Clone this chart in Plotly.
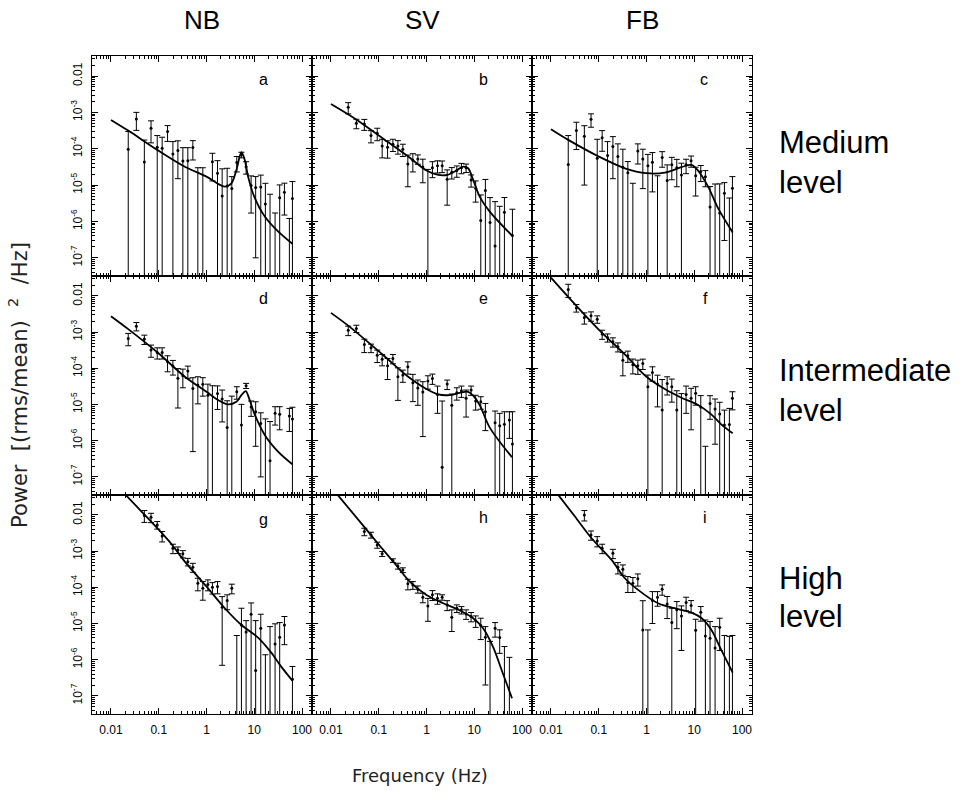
import plotly.graph_objects as go

# ---------------- data ----------------
FREQ = [0.023, 0.034, 0.050, 0.069, 0.093, 0.118, 0.153, 0.198, 0.252, 0.320, 0.407,
        0.518, 0.659, 0.838, 1.07, 1.33, 1.70, 2.13, 2.71, 3.39, 4.31, 5.39, 6.75,
        8.59, 10.7, 13.7, 17.1, 21.4, 27.3, 34.1, 42.8, 54.4, 63.0]

# NB, medium level (a)
NB_MED_P = [9.7e-5, 6.6e-4, 4.3e-5, 3.65e-4, 1.1e-4, 1.03e-4, 2.96e-4, 7.2e-5, 9.0e-5, 4.6e-5, 4.7e-5,
            1.08e-4, 1e-8, 1e-8, None, 4.4e-5, 2.1e-5, 5.0e-6, 9.5e-6, 8.0e-6, 4.2e-5, 6.8e-5, 3.2e-5,
            9.8e-6, 8.6e-6, 8.8e-6, 3.0e-6, 1e-8, 1e-8, 4.5e-6, 6.4e-6, 1e-8, 4.3e-6]
NB_MED_E = [2.0e-4, 3.4e-4, 1.3e-4, 2.2e-4, 1.2e-4, 1.04e-4, 1.37e-4, 8.5e-5, 7.5e-5, 6.1e-5, 6.0e-5,
            5.9e-5, 3.0e-5, 3.0e-5, None, 3.1e-5, 2.6e-5, 2.3e-5, 1.95e-5, 9.1e-6, 1.9e-5, 1.2e-5, 1.2e-5,
            8.1e-6, 8.5e-6, 1.0e-5, 8.2e-6, 5.6e-6, 1.7e-6, 5.6e-6, 4.9e-6, 1.2e-6, 8.2e-6]
# SV, medium level (b)
SV_MED_P = [1.38e-3, 5.0e-4, 4.8e-4, 2.3e-4, 2.66e-4, 1.19e-4, 1.1e-4, 1.33e-4, 1.19e-4, 9.7e-5, 3.8e-5,
            4.8e-5, 5.25e-5, 3.16e-5, 1e-8, 3.0e-5, 3.4e-5, 3.4e-5, 1.45e-5, 2.25e-5, 2.5e-5, 3.0e-5, 3.0e-5,
            1.39e-5, 8.2e-6, 1.06e-6, 7.1e-6, 9.3e-7, 2.1e-7, 1e-8, 1.8e-6, None, 4.1e-7]
SV_MED_E = [4.7e-4, 1.46e-4, 1.6e-4, 8.5e-5, 1.0e-4, 6.3e-5, 5.5e-5, 4.9e-5, 4.8e-5, 3.6e-5, 2.9e-5,
            2.5e-5, 1.5e-5, 2.0e-5, 2.7e-5, 1.4e-5, 1.25e-5, 1.2e-5, 1.17e-5, 7.8e-6, 8.6e-6, 9.5e-6, 7.9e-6,
            5.1e-6, 4.8e-6, 4.3e-6, 7.2e-6, 3.6e-6, 3.3e-6, 2.6e-6, 2.75e-6, None, 1.76e-6]
# FB, medium level (c)
FB_MED_P = [3.7e-5, 3.15e-4, 2.2e-4, 6.5e-4, 5.5e-5, 2.0e-4, 6.5e-5, 1.15e-4, 6.1e-5, 3.1e-5, 2.2e-5,
            1e-8, 8.7e-5, 5.25e-5, 3.4e-5, 4.25e-5, 1e-8, 5.7e-5, 1.33e-5, 3.6e-5, 3.0e-5, 1.9e-5, 3.6e-5,
            4.7e-5, 1.8e-5, 2.35e-5, 1.7e-5, 2.5e-6, 1e-8, 1.7e-6, 6.0e-6, 1e-8, 8.2e-6]
FB_MED_E = [1.93e-4, 2.2e-4, 2.1e-4, 2.6e-4, 1.27e-4, 1.15e-4, 9.2e-5, 1.0e-4, 7.5e-5, 6.6e-5, 2.23e-5,
            1.12e-5, 4.9e-5, 4.45e-5, 3.6e-5, 3.6e-5, 1.8e-5, 2.6e-5, 2.26e-5, 2.2e-5, 2.1e-5, 2.1e-5, 1.54e-5,
            1.6e-5, 1.3e-5, 1.1e-5, 8.0e-6, 6.6e-6, 1.07e-5, 9.1e-6, 5.7e-6, 4.4e-6, 8.9e-6]
# NB, intermediate level (d)
NB_INT_P = [6.7e-4, 1.46e-3, 6.4e-4, 3.2e-4, 2.74e-4, 2.74e-4, 1.51e-4, 1.15e-4, 5.3e-5, 6.2e-5, 8.4e-5,
            2.77e-5, 3.44e-5, 3.6e-5, 1.8e-5, 1e-8, 2.0e-5, 1.42e-5, 2.3e-6, 1e-8, 2.25e-5, 2.7e-6, 3.3e-5,
            8.6e-6, 6.3e-6, 3.0e-6, 1e-8, 2.8e-7, 5.7e-6, 5.35e-6, None, 4.8e-6, 4.0e-6]
NB_INT_E = [2.5e-4, 3.8e-4, 1.84e-4, 1.18e-4, 9.4e-5, 9.4e-5, 7.1e-5, 5.0e-5, 4.5e-5, 3.3e-5, 3.1e-5,
            2.72e-5, 2.4e-5, 1.9e-5, 1.85e-5, 3.3e-5, 1.27e-5, 1.09e-5, 1.04e-5, 1.7e-5, 8.5e-6, 7.4e-6, 5.3e-6,
            3.9e-6, 5.6e-6, 2.9e-6, 4.0e-6, 3.1e-6, 3.0e-6, 3.35e-6, None, 3.0e-6, 4.4e-6]
# SV, intermediate level (e)
SV_INT_P = [1.13e-3, 1.26e-3, 4.55e-4, 3.68e-4, 2.31e-4, 1.79e-4, 1.18e-4, 1.87e-4, 5.8e-5, 6.5e-5, 1.1e-4,
            4.0e-5, 2.85e-5, 2.2e-5, 4.44e-5, 5.26e-5, 1.9e-5, 1.85e-7, 3.66e-5, 9.5e-6, 2.11e-5, 2.4e-5, 1.48e-5,
            2.51e-5, 1.25e-5, 1.19e-5, 6.3e-6, None, 3.15e-6, 2.6e-6, 2.83e-6, 3.73e-6, 8.1e-7]
SV_INT_E = [3.3e-4, 2.9e-4, 1.83e-4, 9.7e-5, 8.7e-5, 6.2e-5, 6.9e-5, 5.4e-5, 4.5e-5, 2.4e-5, 4.1e-5,
            2.8e-5, 1.9e-5, 2.07e-5, 1.78e-5, 1.66e-5, 1.33e-5, 1.23e-5, 1.07e-5, 1.0e-5, 7.9e-6, 8.3e-6, 1.03e-5,
            7.2e-6, 5.5e-6, 4.5e-6, 4.4e-6, None, 3.45e-6, 3.1e-6, 3.47e-6, 2.57e-6, 5.5e-6]
# FB, intermediate level (f)
FB_INT_P = [1.5e-2, 4.67e-3, 2.53e-3, 2.81e-3, 2.28e-3, 8.8e-4, 7.1e-4, 5.4e-4, 3.93e-4, 1.68e-4, 2.22e-4,
            1.25e-4, 1.18e-4, 1.36e-4, 3.1e-5, 7.7e-5, 3.66e-5, 7.0e-6, 3.83e-5, 3.1e-5, 7.0e-6, 1e-8, 1.9e-5,
            1.5e-5, 2.03e-5, 8.6e-6, 1e-8, 1.07e-5, 7.5e-6, 5.5e-6, 2.7e-6, 2.8e-6, 1.48e-5]
FB_INT_E = [6.0e-3, 1.1e-3, 8.7e-4, 8.1e-4, 5.3e-4, 2.5e-4, 1.8e-4, 1.55e-4, 1.1e-4, 1.06e-4, 7.6e-5,
            5.5e-5, 5.0e-5, 4.3e-5, 3.4e-5, 3.3e-5, 2.8e-5, 4.2e-5, 2.0e-5, 1.94e-5, 1.7e-5, 2.0e-5, 1.33e-5,
            1.3e-5, 1.07e-5, 9.0e-6, 6.9e-7, 6.8e-6, 6.7e-6, 6.0e-6, 4.3e-6, 5.0e-6, 7.7e-6]
# NB, high level (g)
NB_HIGH_P = [None, None, 9.7e-3, 8.6e-3, 5.3e-3, 2.63e-3, None, 1.2e-3, 1.08e-3, 8.4e-4, 5.1e-4,
             3.6e-4, 1.29e-4, 9.4e-5, 1.2e-4, 1.0e-4, 1.05e-4, 2.8e-5, 4.3e-5, 9.4e-5, 1e-8, 9.1e-6, 5.8e-6,
             1.8e-5, 5e-7, 7.4e-6, 1e-8, 1e-8, 2.7e-6, 4.2e-6, 9.1e-6, None, 2.9e-7]
NB_HIGH_E = [None, None, 3.5e-3, 2.5e-3, 1.25e-3, 8.4e-4, None, 3.5e-4, 2.2e-4, 1.9e-4, 1.2e-4,
             1.0e-4, 4.9e-5, 5.0e-5, 4.0e-5, 3.5e-5, 3.9e-5, 2.73e-5, 1.9e-5, 2.8e-5, 4.65e-6, 1.73e-5, 6.2e-6,
             1.9e-5, 1.15e-5, 1.06e-5, 1.36e-6, 8.2e-6, 7.1e-6, 6.4e-6, 6.5e-6, None, 3.6e-7]
# SV, high level (h)
SV_HIGH_P = [None, None, 3.47e-3, 2.8e-3, 1.48e-3, 8.4e-4, None, 5.5e-4, 3.9e-4, 3.0e-4, 1.26e-4,
             1.16e-4, 8.9e-5, 5.3e-5, 3.05e-5, 6.2e-5, 5.0e-5, 5.3e-5, 3.27e-5, 1.49e-5, 2.64e-5, 2.38e-5, 1.84e-5,
             1.56e-5, 1.2e-5, 8.8e-6, 4.2e-6, 1e-8, 7.4e-6, 4.1e-6, 1e-8, 1e-8, None]
SV_HIGH_E = [None, None, 8.1e-4, 5.2e-4, 2.8e-4, 1.3e-4, None, 6.3e-5, 7.2e-5, 4.5e-5, 4.1e-5,
             2.8e-5, 2.0e-5, 1.56e-5, 1.9e-5, 1.9e-5, 1.6e-5, 9.0e-6, 1.0e-5, 8.9e-6, 6.3e-6, 5.5e-6, 5.4e-6,
             4.5e-6, 4.2e-6, 5.2e-6, 4.0e-6, 3.2e-6, 3.2e-6, 2.6e-6, 2.3e-6, 1.15e-6, None]
# FB, high level (i)
FB_HIGH_P = [None, None, 1.0e-2, 2.8e-3, 1.91e-3, 1.2e-3, None, 8.7e-4, 3.58e-4, 3.15e-4, 1.35e-4,
             1.29e-4, 1.71e-4, 6.65e-6, 1e-8, 4.3e-5, 5.3e-5, 8.85e-5, 3.47e-5, 1.06e-5, 2.38e-5, 1.62e-5, 3.78e-5,
             3.13e-5, 6.5e-6, 2.05e-5, 4.5e-6, 3.9e-6, 2.1e-6, 7.9e-6, 1e-8, 1e-8, 1e-8]
FB_HIGH_E = [None, None, 3.2e-3, 8.0e-4, 6.0e-4, 3.5e-4, None, 2.5e-4, 1.24e-4, 1.0e-4, 6.3e-5,
             5.7e-5, 6.3e-5, 3.6e-5, 6.65e-6, 3.3e-5, 2.3e-5, 2.8e-5, 2.1e-5, 1.58e-5, 1.66e-5, 1.44e-5, 1.54e-5,
             1.17e-5, 6.6e-6, 8.9e-6, 8.0e-6, 7.4e-6, 6.1e-6, 6.1e-6, 4.65e-6, 4.4e-6, 4.65e-6]

# model curves (frequency, power) read along the drawn fits
NB_MED_MF = [0.01, 0.023, 0.093, 0.352, 1.0, 1.75, 2.42, 3.33, 4.24, 5.39, 6.33, 7.43, 10, 16.6, 31.5, 62.8]
NB_MED_MP = [6.2e-4, 3.15e-4, 9.3e-5, 3.2e-5, 1.71e-5, 1.08e-5, 9.1e-6, 1.12e-5, 2.62e-5, 8.0e-5, 4.9e-5,
             1.71e-5, 4.8e-6, 1.36e-6, 5.3e-7, 2.43e-7]
SV_MED_MF = [0.01, 0.035, 0.12, 0.414, 1.0, 1.75, 2.75, 4.24, 5.85, 7.43, 9.5, 13.0, 21.1, 61.8]
SV_MED_MP = [1.7e-3, 6.2e-4, 1.94e-4, 6.1e-5, 2.51e-5, 1.9e-5, 1.9e-5, 2.51e-5, 3.23e-5, 2.9e-5, 1.39e-5,
             4.8e-6, 1.87e-6, 4.1e-7]
FB_MED_MF = [0.01, 0.023, 0.1, 0.352, 1.0, 2.42, 5.39, 8.73, 12.0, 19.5, 31.5, 63.8]
FB_MED_MP = [3.43e-4, 1.75e-4, 6.1e-5, 2.9e-5, 2.12e-5, 2.2e-5, 3.1e-5, 3.59e-5, 2.51e-5, 9.1e-6, 2.32e-6, 4.97e-7]
NB_INT_MF = [0.01, 0.023, 0.1, 0.352, 1.0, 1.75, 2.84, 4.24, 5.39, 6.64, 7.8, 10, 16.6, 31.5, 62.8]
NB_INT_MP = [2.75e-3, 1.21e-3, 2.57e-4, 5.85e-5, 2.25e-5, 1.33e-5, 1.01e-5, 1.19e-5, 1.82e-5, 2.35e-5, 1.48e-5,
             5.7e-6, 1.44e-6, 5.0e-7, 2.23e-7]
SV_INT_MF = [0.01, 0.0237, 0.12, 0.414, 1.0, 1.75, 3.07, 4.98, 7.43, 9.5, 13.0, 21.0, 61.8]
SV_INT_MP = [3.4e-3, 1.46e-3, 2.41e-4, 5.85e-5, 2.67e-5, 1.9e-5, 1.82e-5, 2.11e-5, 2.25e-5, 1.75e-5, 9.7e-6,
             2.34e-6, 3.5e-7]
FB_INT_MF = [0.01, 0.023, 0.1, 0.352, 1.0, 2.42, 5.39, 12.0, 22.7, 36.7, 63.8]
FB_INT_MP = [3.2e-2, 9.4e-3, 1.18e-3, 2.41e-4, 5.85e-5, 2.67e-5, 1.54e-5, 9.7e-6, 5.35e-6, 2.83e-6, 1.6e-6]
NB_HIGH_MF = [0.0203, 0.0473, 0.0978, 0.186, 0.352, 1.0, 2.42, 5.39, 12.0, 22.7, 36.7, 62.8]
NB_HIGH_MP = [3.57e-2, 1.11e-2, 4.02e-3, 1.55e-3, 5.14e-4, 1.05e-4, 2.64e-5, 9.1e-6, 4.08e-6, 1.57e-6, 6.45e-7, 2.65e-7]
SV_HIGH_MF = [0.0138, 0.0473, 0.1, 0.235, 0.446, 1.0, 2.24, 5.0, 9.5, 15.3, 24.6, 39.6, 61.8]
SV_HIGH_MP = [3.57e-2, 5.07e-3, 1.52e-3, 4.0e-4, 1.44e-4, 6.17e-5, 3.63e-5, 2.28e-5, 1.4e-5, 7.4e-6, 2.3e-6,
              4.23e-7, 8.6e-8]
FB_HIGH_MF = [0.0142, 0.0318, 0.0707, 0.186, 0.352, 0.667, 1.75, 3.87, 8.73, 14.3, 22.9, 36.7, 63.8]
FB_HIGH_MP = [3.57e-2, 9.0e-3, 2.26e-3, 5.71e-4, 1.78e-4, 8.5e-5, 3.63e-5, 2.64e-5, 2.0e-5, 1.4e-5, 6.65e-6,
              1.87e-6, 4.4e-7]

COLUMNS = ["NB", "SV", "FB"]
ROW_LABELS = [("Medium", "level"), ("Intermediate", "level"), ("High", "level")]
LETTERS = ["a", "b", "c", "d", "e", "f", "g", "h", "i"]
X_TICKS = [0.01, 0.1, 1, 10, 100]
X_TICKTEXT = ["0.01", "0.1", "1", "10", "100"]
Y_TICKS = [1e-2, 1e-3, 1e-4, 1e-5, 1e-6, 1e-7]
Y_TICKTEXT = ["0.01", "10<sup>-3</sup>", "10<sup>-4</sup>", "10<sup>-5</sup>", "10<sup>-6</sup>", "10<sup>-7</sup>"]

PANELS = [
    (NB_MED_P, NB_MED_E, NB_MED_MF, NB_MED_MP), (SV_MED_P, SV_MED_E, SV_MED_MF, SV_MED_MP),
    (FB_MED_P, FB_MED_E, FB_MED_MF, FB_MED_MP),
    (NB_INT_P, NB_INT_E, NB_INT_MF, NB_INT_MP), (SV_INT_P, SV_INT_E, SV_INT_MF, SV_INT_MP),
    (FB_INT_P, FB_INT_E, FB_INT_MF, FB_INT_MP),
    (NB_HIGH_P, NB_HIGH_E, NB_HIGH_MF, NB_HIGH_MP), (SV_HIGH_P, SV_HIGH_E, SV_HIGH_MF, SV_HIGH_MP),
    (FB_HIGH_P, FB_HIGH_E, FB_HIGH_MF, FB_HIGH_MP),
]

# ---------------- layout geometry ----------------
W, H = 969, 791
COL_PX = [(92, 312), (312, 532), (532, 752)]
ROW_PX = [(56, 276), (276, 495), (495, 714)]
X_RANGE = [-2.397, 2.209]
Y_RANGE = [-7.50, -1.45]
TICK_FONT = dict(family="Liberation Sans, Arial, sans-serif", size=12, color="black")

minor_x = [m * 10.0 ** k for k in range(-3, 3) for m in range(2, 10)]
minor_y = [m * 10.0 ** k for k in range(-8, -1) for m in range(2, 10)]


def px_x(x):
    return x / W


def px_y(y):
    return 1 - y / H


fig = go.Figure()
layout = dict(width=W, height=H, margin=dict(l=0, r=0, t=0, b=0), autosize=False,
              paper_bgcolor="white", plot_bgcolor="white", showlegend=False)

for k, (pw, er, mf, mp) in enumerate(PANELS):
    r, c = divmod(k, 3)
    n = k + 1
    xs = "" if n == 1 else str(n)
    xa, ya = "x" + xs, "y" + xs
    fig.add_trace(go.Scatter(
        x=FREQ, y=pw, mode="markers", xaxis=xa, yaxis=ya,
        marker=dict(size=3, color="black"),
        error_y=dict(type="data", array=er, symmetric=True, color="black", thickness=1, width=3),
        hoverinfo="skip"))
    fig.add_trace(go.Scatter(
        x=mf, y=mp, mode="lines", xaxis=xa, yaxis=ya,
        line=dict(color="black", width=1.8, shape="spline", smoothing=0.9), hoverinfo="skip"))
    x0, x1 = COL_PX[c]
    y0, y1 = ROW_PX[r]
    common = dict(type="log", showline=True, linecolor="black", linewidth=1.2, mirror="ticks",
                  ticks="inside", ticklen=6, tickwidth=1, tickcolor="black", showgrid=False,
                  zeroline=False, tickfont=TICK_FONT, fixedrange=True)
    layout["xaxis" + xs] = dict(common, domain=[px_x(x0), px_x(x1)], range=X_RANGE, anchor=ya,
                                tickmode="array", tickvals=X_TICKS, ticktext=X_TICKTEXT,
                                showticklabels=(r == 2), ticklabelstandoff=4,
                                minor=dict(tickmode="array", tickvals=minor_x, ticks="inside",
                                           ticklen=3, tickcolor="black", showgrid=False))
    layout["yaxis" + xs] = dict(common, domain=[px_y(y1), px_y(y0)], range=Y_RANGE, anchor=xa,
                                tickmode="array", tickvals=Y_TICKS, ticktext=Y_TICKTEXT,
                                showticklabels=(c == 0), tickangle=-90, ticklabelstandoff=4,
                                minor=dict(tickmode="array", tickvals=minor_y, ticks="inside",
                                           ticklen=3, tickcolor="black", showgrid=False))

ann = []
HEAD_FONT = dict(family="Liberation Sans, Arial, sans-serif", size=26, color="black")
ROW_FONT = dict(family="Liberation Sans, Arial, sans-serif", size=31, color="black")
for c, name in enumerate(COLUMNS):
    cx = (COL_PX[c][0] + COL_PX[c][1]) / 2
    ann.append(dict(x=px_x(cx), y=px_y(20), text=name, showarrow=False, xref="paper", yref="paper",
                    xanchor="center", yanchor="middle", font=HEAD_FONT))
ROW_TEXT_Y = [(143, 183), (370, 410), (578, 616)]
for r, (l1, l2) in enumerate(ROW_LABELS):
    for txt, yy in zip((l1, l2), ROW_TEXT_Y[r]):
        ann.append(dict(x=px_x(777), y=px_y(yy), text=txt, showarrow=False, xref="paper", yref="paper",
                        xanchor="left", yanchor="middle", font=ROW_FONT))
LETTER_POS = [(263, 80), (483, 80), (704, 80), (263, 298), (483, 298), (705, 298),
              (263, 519), (483, 517), (705, 517)]
for L, (lx, ly) in zip(LETTERS, LETTER_POS):
    ann.append(dict(x=px_x(lx), y=px_y(ly), text=L, showarrow=False, xref="paper", yref="paper",
                    xanchor="center", yanchor="middle",
                    font=dict(family="Liberation Sans, Arial, sans-serif", size=16, color="black")))
ann.append(dict(x=px_x(420), y=px_y(775), text="Frequency (Hz)", showarrow=False, xref="paper",
                yref="paper", xanchor="center", yanchor="middle",
                font=dict(family="DejaVu Sans, sans-serif", size=18, color="#222222")))
ann.append(dict(x=px_x(18), y=px_y(385), text="Power  [(rms/mean)  <sup>2</sup>  /Hz]", textangle=-90,
                showarrow=False, xref="paper", yref="paper", xanchor="center", yanchor="middle",
                font=dict(family="DejaVu Sans, sans-serif", size=21, color="#222222")))
layout["annotations"] = ann
fig.update_layout(**layout)
fig.write_html("out.html")
